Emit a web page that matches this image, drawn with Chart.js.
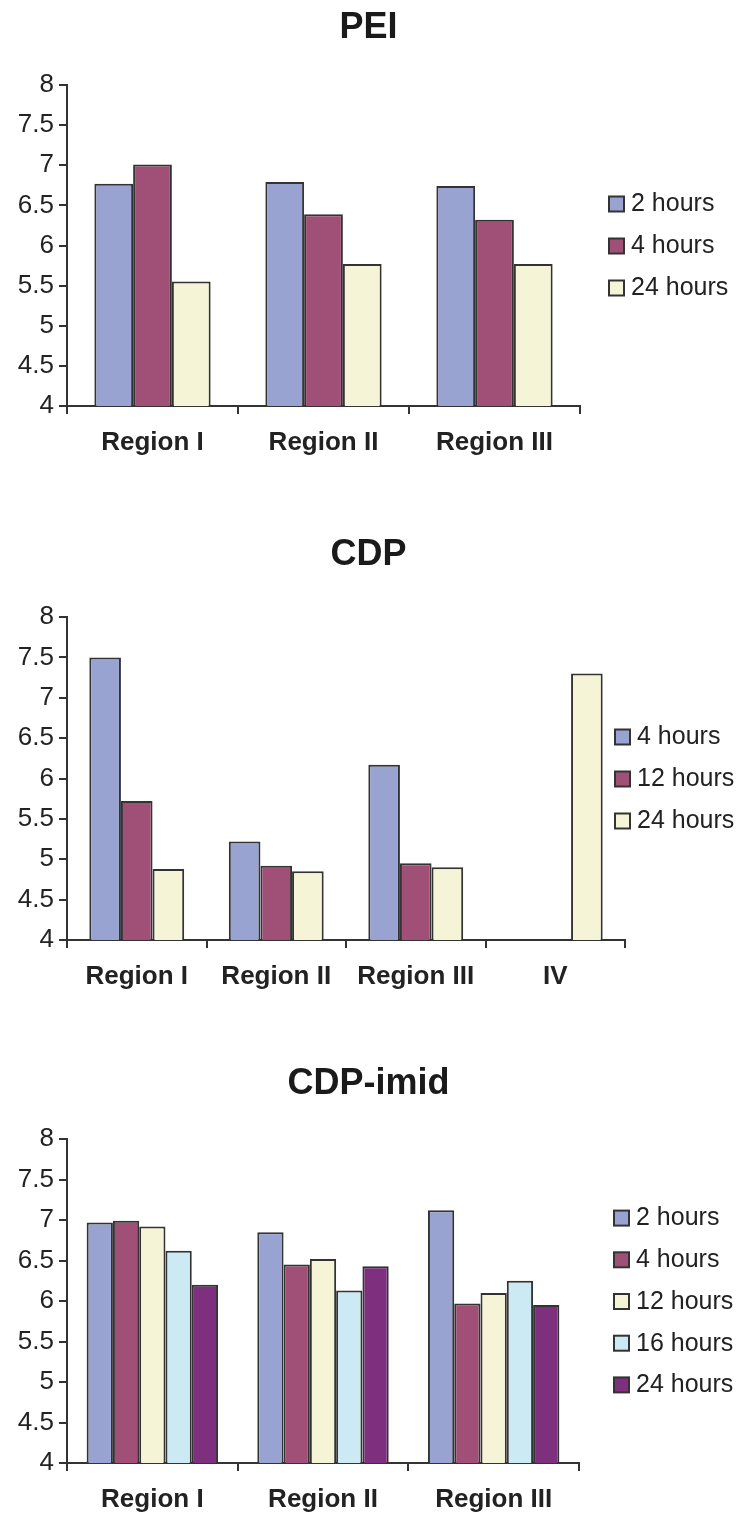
<!DOCTYPE html>
<html>
<head>
<meta charset="utf-8">
<script src="https://cdn.jsdelivr.net/npm/chart.js@4.4.1/dist/chart.umd.min.js"></script>
<style>
  body { margin: 0; background: #fff; }
  #wrap { position: relative; width: 737px; height: 1514px; }
  .box { position: absolute; left: 0; width: 737px; }
</style>
</head>
<body>
<div id="wrap">
  <div class="box" style="top:0;height:470px"><canvas id="peiChart"></canvas></div>
  <div class="box" style="top:500px;height:500px"><canvas id="cdpChart"></canvas></div>
  <div class="box" style="top:1030px;height:484px"><canvas id="imidChart"></canvas></div>
</div>
<script>
// Data
const regions3 = ["Region I", "Region II", "Region III"];
const regions4 = ["Region I", "Region II", "Region III", "IV"];

const peiLabels = ["2 hours", "4 hours", "24 hours"];
const pei2h = [6.77, 6.79, 6.74];
const pei4h = [7.01, 6.39, 6.32];
const pei24h = [5.55, 5.77, 5.77];

const cdpLabels = ["4 hours", "12 hours", "24 hours"];
const cdp4h = [7.5, 5.22, 6.17, null];
const cdp12h = [5.72, 4.92, 4.95, null];
const cdp24h = [4.88, 4.85, 4.9, 7.3];

const imidLabels = ["2 hours", "4 hours", "12 hours", "16 hours", "24 hours"];
const imid2h = [6.97, 6.85, 7.12];
const imid4h = [6.99, 6.45, 5.97];
const imid12h = [6.92, 6.52, 6.1];
const imid16h = [6.62, 6.13, 6.25];
const imid24h = [6.2, 6.43, 5.95];

const yTicks = [4, 4.5, 5, 5.5, 6, 6.5, 7, 7.5, 8];

// Colours
const blue = "#99A3D1";
const maroon = "#A05076";
const cream = "#F6F4D6";
const cyan = "#CCEAF3";
const purple = "#7E307E";
const ink = "#333333";

const FONT = "'Liberation Sans', Arial, sans-serif";

// Legend drawn at the right side, centred on the plot area
const sideLegend = {
  id: "sideLegend",
  afterDraw(chart, args, opts) {
    const ctx = chart.ctx;
    const sets = chart.data.datasets;
    const area = chart.chartArea;
    const mid = (area.top + area.bottom) / 2;
    const first = mid - (sets.length - 1) / 2 * opts.spacing;
    ctx.save();
    ctx.font = "25px " + FONT;
    ctx.textBaseline = "middle";
    ctx.textAlign = "left";
    sets.forEach((ds, i) => {
      const cy = first + i * opts.spacing;
      ctx.fillStyle = ds.backgroundColor;
      ctx.fillRect(opts.x, cy - 7, 15, 15);
      ctx.lineWidth = 2;
      ctx.strokeStyle = ink;
      ctx.strokeRect(opts.x, cy - 7, 15, 15);
      ctx.fillStyle = "#222";
      ctx.fillText(ds.label, opts.x + 22, cy + 1);
    });
    ctx.restore();
  }
};

function makeDatasets(labels, series, colors) {
  return series.map((data, i) => ({
    label: labels[i],
    data: data,
    backgroundColor: colors[i],
    borderColor: ink,
    borderWidth: 2,
    borderSkipped: "bottom"
  }));
}

function makeChart(id, title, categories, datasets, lay) {
  const titleLine = 36 * 1.2;
  const titleTop = lay.titleMid - titleLine / 2;
  return new Chart(document.getElementById(id), {
    type: "bar",
    data: { labels: categories, datasets: datasets },
    plugins: [sideLegend],
    options: {
      responsive: true,
      maintainAspectRatio: false,
      animation: false,
      categoryPercentage: lay.group,
      barPercentage: 1,
      layout: { padding: { left: 0, right: 0, top: 0, bottom: lay.height - lay.bottom - 50 } },
      plugins: {
        legend: { display: false },
        tooltip: { enabled: false },
        title: {
          display: true,
          text: title,
          color: "#1a1a1a",
          font: { family: FONT, size: 36, weight: "bold" },
          padding: { top: titleTop, bottom: lay.top - titleTop - titleLine }
        },
        sideLegend: { x: lay.legendX, spacing: lay.spacing }
      },
      scales: {
        x: {
          afterFit: s => { s.height = 50; },
          border: { display: true, color: ink, width: 2 },
          grid: { display: true, offset: true, drawOnChartArea: false, drawTicks: true, tickLength: 8, color: ink, lineWidth: 2 },
          ticks: { color: "#222", padding: 13, font: { family: FONT, size: 26, weight: "bold" } }
        },
        y: {
          min: 4,
          max: 8,
          afterFit: s => { s.width = 67; },
          afterBuildTicks: s => { s.ticks = yTicks.map(v => ({ value: v })); },
          border: { display: true, color: ink, width: 2 },
          grid: { display: true, drawOnChartArea: false, drawTicks: true, tickLength: 8, color: ink, lineWidth: 2 },
          ticks: { color: "#222", padding: 5, font: { family: FONT, size: 26 }, callback: v => String(v) }
        },
        // empty box on the right that holds the legend space
        side: {
          type: "linear",
          position: "right",
          afterFit: s => { s.width = 737 - lay.right; },
          grid: { display: false },
          border: { display: false },
          ticks: { display: false }
        }
      }
    }
  });
}

makeChart("peiChart", "PEI", regions3,
  makeDatasets(peiLabels, [pei2h, pei4h, pei24h], [blue, maroon, cream]),
  { height: 470, top: 85, bottom: 406, right: 580, titleMid: 28, group: 0.68, legendX: 609, spacing: 42 });

makeChart("cdpChart", "CDP", regions4,
  makeDatasets(cdpLabels, [cdp4h, cdp12h, cdp24h], [blue, maroon, cream]),
  { height: 500, top: 117, bottom: 440, right: 625, titleMid: 55, group: 0.68, legendX: 615, spacing: 42 });

makeChart("imidChart", "CDP-imid", regions3,
  makeDatasets(imidLabels, [imid2h, imid4h, imid12h, imid16h, imid24h], [blue, maroon, cream, cyan, purple]),
  { height: 484, top: 109, bottom: 433, right: 579, titleMid: 54, group: 0.77, legendX: 614, spacing: 41.7 });
</script>
</body>
</html>
